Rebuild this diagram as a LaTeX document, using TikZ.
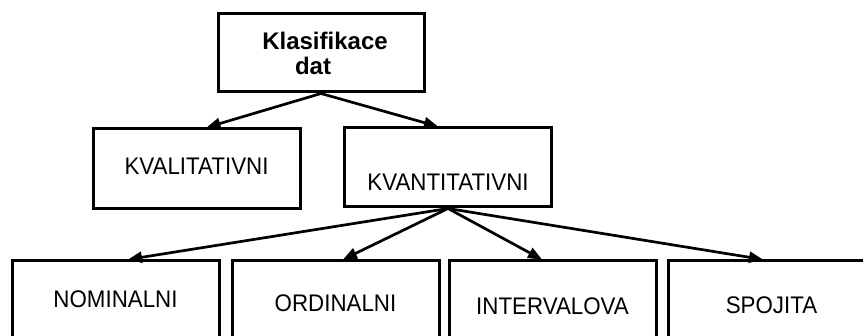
\documentclass[tikz,border=0pt]{standalone}
\usepackage{fontspec}
\setmainfont{Liberation Sans}
\newfontfamily\condfont[FakeStretch=0.93]{Liberation Sans}
\usetikzlibrary{arrows.meta,calc}
\newcommand{\liftlbl}[2]{\raisebox{-#1pt}[0pt][0pt]{#2}}
\begin{document}
\begin{tikzpicture}[x=1pt,y=-1pt,
  box/.style={draw,line width=3pt,minimum width=207pt,minimum height=80pt,inner sep=0pt,
    font=\condfont\fontsize{24}{25}\selectfont},
  lowbox/.style={box,minimum height=82pt},
  topbox/.style={draw,line width=3pt,minimum width=206pt,minimum height=78pt,inner sep=0pt,
    align=center,font=\bfseries\fontsize{24}{25}\selectfont},
  link/.style={line width=2.7pt,-{Triangle[length=14pt,width=11pt]}}]
\useasboundingbox (0,0) rectangle (863,336);
\fill[white] (0,0) rectangle (863,336);
\clip (0,0) rectangle (863,336);
\node[topbox] (dat) at (321,53) {\hspace*{8pt}Klasifikace\\dat\rule{16pt}{0pt}};
\node[box] (kval) at (196.5,169) {\liftlbl{6}{KVALITATIVNI}};
\node[box,minimum height=79pt] (kvant) at (448,167.5) {\liftlbl{23.5}{KVANTITATIVNI}};
\node[lowbox] (nom) at (115.5,302) {\liftlbl{6}{NOMINALNI}};
\node[lowbox] (ord) at (335.5,302) {\liftlbl{10}{ORDINALNI}};
\node[lowbox] (int) at (552.5,302) {\liftlbl{13}{INTERVALOVA}};
\node[lowbox] (spo) at (771.5,302) {\liftlbl{12}{SPOJITA}};
\draw[link] (dat.south) -- ($(kval.north)+(10,0)$);
\draw[link] (dat.south) -- ($(kvant.north)+(-10,0)$);
\draw[link] (kvant.south) -- ($(nom.north)+(12.5,0)$);
\draw[link] (kvant.south) -- ($(ord.north)+(7.5,0)$);
\draw[link] (kvant.south) -- ($(int.north)+(-10.5,0)$);
\draw[link] (kvant.south) -- ($(spo.north)+(-8.5,0)$);
\end{tikzpicture}
\end{document}
